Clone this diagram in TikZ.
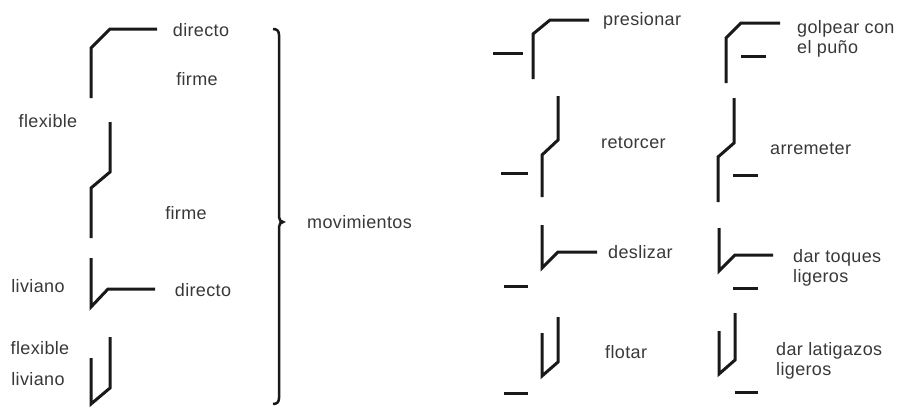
\documentclass[tikz,border=0pt]{standalone}
\usepackage{fontspec}
\setmainfont{Liberation Sans}[LetterSpace=2]
\begin{document}
\begin{tikzpicture}[x=1pt,y=-1pt,
  sym/.style={line width=3pt,black!90,line join=miter},
  lbl/.style={inner sep=0pt,anchor=base,text=black!78,font=\fontsize{18}{20}\selectfont},
  lbll/.style={lbl,anchor=base west,align=left}]
\useasboundingbox (0,0) rectangle (897,407);
% ---- left group
\draw[sym] (91,98) -- (91,48) -- (110,29) -- (157,29);
\draw[sym] (110,122) -- (110,172) -- (91,188) -- (91,238);
\draw[sym] (91,258) -- (91,307) -- (108,289) -- (155,289);
\draw[sym] (91,358) -- (91,404) -- (110,388) -- (110,337);
\node[lbl] (d1) at (201,36) {directo};
\node[lbl] (f1) at (197,85) {firme};
\node[lbl] (fl1) at (48,127) {flexible};
\node[lbl] (f2) at (186,219) {firme};
\node[lbl] (l1) at (38,292) {liviano};
\node[lbl] (d2) at (203,296) {directo};
\node[lbl] (fl2) at (40,354) {flexible};
\node[lbl] (l2) at (38,385) {liviano};
% ---- brace
\draw[line width=2.5pt,black!90] (273,29) .. controls (277,29) and (279,31) .. (279,35)
  -- (279,217) .. controls (279,220) and (281,222) .. (283,222)
  .. controls (281,222) and (279,224) .. (279,227)
  -- (279,398) .. controls (279,402) and (277,404) .. (273,404);
\node[lbl,anchor=base west] (mov) at (307,228) {movimientos};
% ---- right group, column 1
\draw[sym] (493,53) -- (523,53);
\draw[sym] (533,79) -- (533,34) -- (550,20) -- (589,20);
\node[lbl,anchor=base west] (pres) at (603,25) {presionar};
\draw[sym] (501,173) -- (528,173);
\draw[sym] (558,96) -- (558,140) -- (542,155) -- (542,197);
\node[lbl,anchor=base west] (ret) at (601,148) {retorcer};
\draw[sym] (504,286) -- (528,286);
\draw[sym] (542,225) -- (542,268) -- (558,252) -- (597,252);
\node[lbl,anchor=base west] (desl) at (608,258) {deslizar};
\draw[sym] (504,393) -- (528,393);
\draw[sym] (542,333) -- (542,376) -- (558,362) -- (558,317);
\node[lbl,anchor=base west] (flo) at (605,358) {flotar};
% ---- right group, column 2
\draw[sym] (741,56) -- (766,56);
\draw[sym] (726,83) -- (726,38) -- (741,23) -- (780,23);
\node[lbll] (golp) at (797,53) {golpear con\\el puño};
\draw[sym] (733,175) -- (758,175);
\draw[sym] (734,98) -- (734,143) -- (718,157) -- (718,202);
\node[lbl,anchor=base west] (arr) at (770,154) {arremeter};
\draw[sym] (733,288) -- (758,288);
\draw[sym] (719,228) -- (719,271) -- (735,255) -- (773,255);
\node[lbll] (toq) at (793,282) {dar toques\\ligeros};
\draw[sym] (735,392) -- (758,392);
\draw[sym] (719,331) -- (719,374) -- (735,360) -- (735,313);
\node[lbll] (lat) at (776,375) {dar latigazos\\ligeros};
\end{tikzpicture}
\end{document}
